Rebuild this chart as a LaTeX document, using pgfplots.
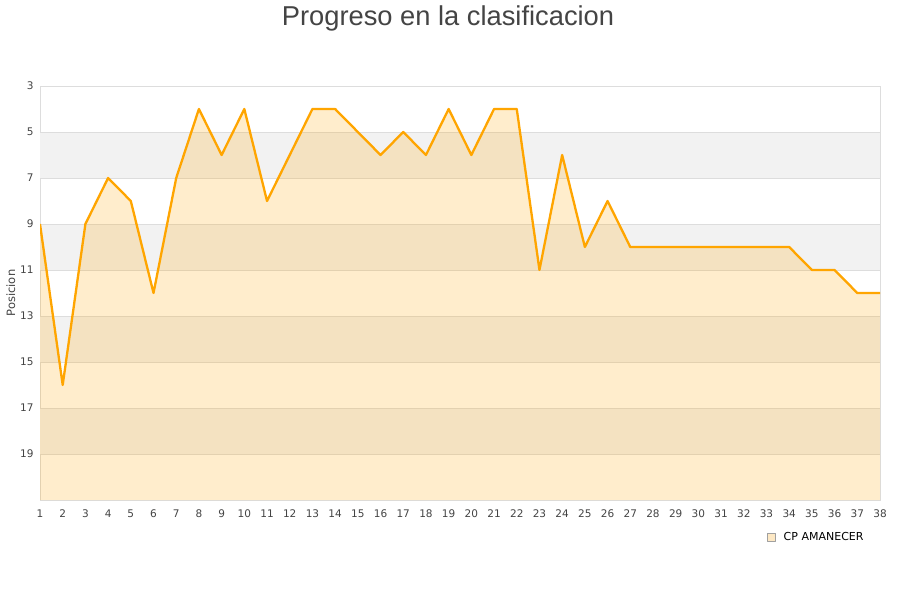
\documentclass[border=0pt]{standalone}
\usepackage{pgfplots}
\pgfplotsset{compat=1.18}
\usepackage{fontspec}
\setmainfont{DejaVu Sans}
\newfontfamily\titlefont{Liberation Sans}
\definecolor{ctitle}{HTML}{444444}
\definecolor{ctick}{HTML}{444444}
\definecolor{cgrid}{HTML}{DDDDDD}
\definecolor{cband}{HTML}{F2F2F2}
\definecolor{cline}{HTML}{FFA500}
\definecolor{clegfill}{HTML}{FDE8C4}
\definecolor{clegdraw}{HTML}{A0A0A0}
\begin{document}
\begin{tikzpicture}
\path[fill=white] (0pt,0pt) rectangle (900pt,600pt);
\node[font=\titlefont\fontsize{27.3}{31}\selectfont, text=ctitle] at (448pt,582pt) {Progreso en la clasificacion};
\begin{axis}[
  at={(40pt,100pt)}, anchor=south west,
  scale only axis, width=840pt, height=414pt,
  xmin=1, xmax=38, ymin=3, ymax=21,
  y dir=reverse,
  xtick={1,...,38}, ytick={3,5,...,19},
  axis line style={cgrid, line width=0.8pt},
  tick style={draw=none},
  /pgf/number format/assume math mode=true,
  ticklabel style={font=\fontsize{10.5}{12}\selectfont, text=ctick},
  xticklabel style={yshift=-6pt},
  yticklabel style={xshift=-3pt},
  ylabel={Posicion},
  ylabel style={font=\fontsize{11.5}{13}\selectfont, text=ctick, yshift=-2pt},
  legend style={at={(0.9866,-0.068)}, anchor=north east, draw=none, fill=none,
     font=\fontsize{11}{13}\selectfont},
  legend cell align=left,
]
\addplot[fill=cband, draw=none, forget plot] coordinates {(1,5) (38,5) (38,7) (1,7)} -- cycle;
\addplot[fill=cband, draw=none, forget plot] coordinates {(1,9) (38,9) (38,11) (1,11)} -- cycle;
\addplot[fill=cband, draw=none, forget plot] coordinates {(1,13) (38,13) (38,15) (1,15)} -- cycle;
\addplot[fill=cband, draw=none, forget plot] coordinates {(1,17) (38,17) (38,19) (1,19)} -- cycle;
\addplot[cgrid, line width=0.8pt, forget plot] coordinates {(1,5) (38,5)};
\addplot[cgrid, line width=0.8pt, forget plot] coordinates {(1,7) (38,7)};
\addplot[cgrid, line width=0.8pt, forget plot] coordinates {(1,9) (38,9)};
\addplot[cgrid, line width=0.8pt, forget plot] coordinates {(1,11) (38,11)};
\addplot[cgrid, line width=0.8pt, forget plot] coordinates {(1,13) (38,13)};
\addplot[cgrid, line width=0.8pt, forget plot] coordinates {(1,15) (38,15)};
\addplot[cgrid, line width=0.8pt, forget plot] coordinates {(1,17) (38,17)};
\addplot[cgrid, line width=0.8pt, forget plot] coordinates {(1,19) (38,19)};
\addplot[fill=cline, fill opacity=0.2, draw=none, forget plot] coordinates {
(1,9) (2,16) (3,9) (4,7) (5,8) (6,12) (7,7) (8,4) (9,6) (10,4)
(11,8) (12,6) (13,4) (14,4) (15,5) (16,6) (17,5) (18,6) (19,4) (20,6)
(21,4) (22,4) (23,11) (24,6) (25,10) (26,8) (27,10) (28,10) (29,10) (30,10)
(31,10) (32,10) (33,10) (34,10) (35,11) (36,11) (37,12) (38,12) (38,21) (1,21)} -- cycle;
\addplot[cline, line width=2.3pt, line join=round,
  legend image code/.code={\draw[clegdraw, fill=clegfill, line width=0.5pt] (0pt,-4pt) rectangle (8pt,4pt); \path (13pt,0pt);}] coordinates {
(1,9) (2,16) (3,9) (4,7) (5,8) (6,12) (7,7) (8,4) (9,6) (10,4)
(11,8) (12,6) (13,4) (14,4) (15,5) (16,6) (17,5) (18,6) (19,4) (20,6)
(21,4) (22,4) (23,11) (24,6) (25,10) (26,8) (27,10) (28,10) (29,10) (30,10)
(31,10) (32,10) (33,10) (34,10) (35,11) (36,11) (37,12) (38,12)};
\legend{CP AMANECER}
\end{axis}
\end{tikzpicture}
\end{document}
